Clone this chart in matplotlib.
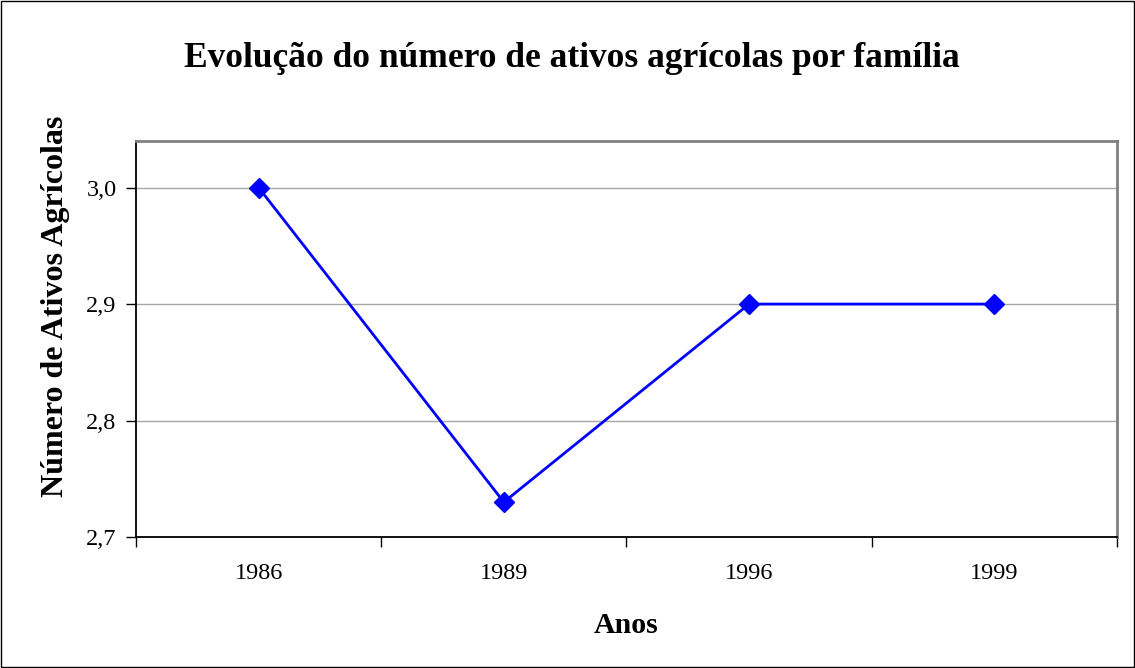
import matplotlib.pyplot as plt
from matplotlib.patches import Rectangle

plt.rcParams['font.family'] = ['Liberation Serif', 'DejaVu Serif']

anos = ["1986", "1989", "1996", "1999"]
ativos = [3.0, 2.73, 2.9, 2.9]
y_ticks = [2.7, 2.8, 2.9, 3.0]
y_labels = ["2,7", "2,8", "2,9", "3,0"]

fig = plt.figure(figsize=(11.35, 6.68), dpi=100)
ax = fig.add_axes([0.1198, 0.196, 0.8643, 0.593])

x = list(range(len(anos)))
ax.plot(x, ativos, color="#0000ff", linewidth=2, marker="D", markersize=10,
        zorder=3, clip_on=False)

ax.set_xlim(-0.5, len(anos) - 0.5)
ax.set_ylim(2.7, 3.04)

# ticks nas fronteiras das categorias, rótulos no centro
ax.set_xticks([i - 0.5 for i in range(len(anos) + 1)])
ax.set_xticklabels([])
ax.set_xticks(x, minor=True)
ax.set_xticklabels(anos, minor=True, fontsize=17.5)
ax.tick_params(axis="x", which="major", direction="out", length=7, width=1, color="black")
ax.tick_params(axis="x", which="minor", length=0, pad=19)

ax.set_yticks(y_ticks)
ax.set_yticklabels(y_labels, fontsize=17.5)
ax.tick_params(axis="y", direction="out", length=7, width=1, color="black", pad=7)

ax.grid(True, axis="y", color="#a6a6a6", linewidth=1)
ax.set_axisbelow(True)

for side in ["top", "right"]:
    ax.spines[side].set_color("#808080")
    ax.spines[side].set_linewidth(2)
for side in ["left", "bottom"]:
    ax.spines[side].set_color("black")
    ax.spines[side].set_linewidth(1.3)

fig.text(0.5515, 0.0524, "Anos", ha="center", va="baseline",
         fontsize=21.5, fontweight="bold")
fig.text(0.049, 0.542, "Número de Ativos Agrícolas", ha="center", va="center",
         rotation=90, fontsize=23, fontweight="bold")
fig.text(0.504, 0.9, "Evolução do número de ativos agrícolas por família",
         ha="center", va="baseline", fontsize=25.5, fontweight="bold")

fig.patches.append(Rectangle((0.001, 0.0015), 0.998, 0.997, transform=fig.transFigure,
                             fill=False, edgecolor="black", linewidth=1))

fig.savefig("out.png", dpi=100)
